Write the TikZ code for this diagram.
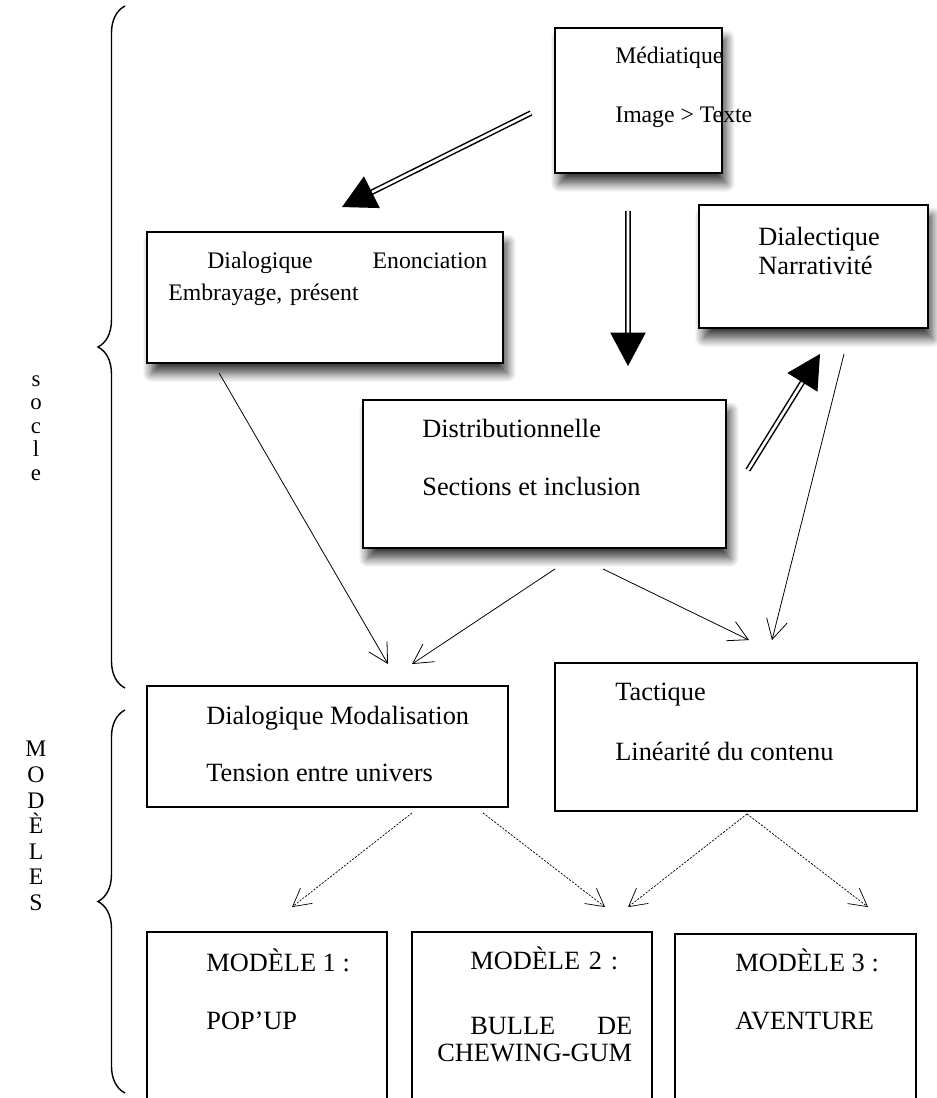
\documentclass[tikz,border=0pt]{standalone}
\usepackage{fontspec}
\setmainfont{Liberation Serif}
\usetikzlibrary{positioning,calc,arrows.meta,shadows.blur,decorations.pathreplacing}

\begin{document}
\begin{tikzpicture}[x=0.02cm, y=-0.02cm,
    box/.style={rectangle, draw, line width=1.1pt, fill=white, inner sep=0pt},
    shadowbox/.style={box, blur shadow={shadow xshift=2.5pt, shadow yshift=-6pt, shadow blur radius=5pt, shadow blur steps=12, shadow opacity=75}},
    txt/.style={anchor=west, inner sep=0pt, align=left},
    dblarrow/.style={double, double distance=1.5pt, line width=0.85pt, -{Triangle[length=19pt, width=20pt]}},
    thinarrow/.style={line width=0.45pt, -{Straight Barb[length=11pt, width=12pt]}},
    dotarrow/.style={line width=0.4pt, dash pattern=on 1.2pt off 0.8pt, -{Straight Barb[length=10pt, width=11pt]}},
    curly/.style={decorate, decoration={brace, amplitude=15.4pt}, line width=0.8pt}]
  \useasboundingbox (0,0) rectangle (936,1098);

  % socle
  \node (media) [shadowbox, minimum width=3.34cm, minimum height=2.90cm] at (638.5,100.5) {};
  \node (dialog) [shadowbox, minimum width=7.12cm, minimum height=2.62cm] at (325,297.5) {};
  \node (dialect) [shadowbox, minimum width=4.58cm, minimum height=2.46cm] at (813.5,266.5) {};
  \node (distrib) [shadowbox, minimum width=7.26cm, minimum height=2.96cm] at (544.5,474) {};

  \node (media-t) [txt, font=\fontsize{13.5}{33.4}\selectfont] at (615,87.5) {Médiatique\\Image > Texte};
  \node (dialog-t) [txt, text width=6.38cm, font=\fontsize{13.5}{18.1}\selectfont] at (168,279) {\hspace*{0.78cm}Dialogique\hfill Enonciation\\Embrayage, présent};
  \node (dialect-t) [txt, font=\fontsize{15}{16}\selectfont] at (758,251) {Dialectique\\Narrativité};
  \node (distrib-t) [txt, font=\fontsize{15}{33.4}\selectfont] at (422,457.5) {Distributionnelle\\Sections et inclusion};

  % modeles
  \node (modal) [box, minimum width=7.22cm, minimum height=2.42cm] at (327.5,746.5) {};
  \node (tact) [box, minimum width=7.24cm, minimum height=2.96cm] at (736,737) {};
  \node (m1) [box, minimum width=4.80cm, minimum height=3.56cm] at (267,1021) {};
  \node (m2) [box, minimum width=4.80cm, minimum height=3.56cm] at (532,1021) {};
  \node (m3) [box, minimum width=4.82cm, minimum height=3.52cm] at (795.5,1022) {};

  \node (modal-t) [txt, font=\fontsize{15}{32.9}\selectfont] at (206,744) {Dialogique Modalisation\\Tension entre univers};
  \node (tact-t) [txt, font=\fontsize{15}{34}\selectfont] at (615,722) {Tactique\\Linéarité du contenu};
  \node (m1-t) [txt, font=\fontsize{15}{32.9}\selectfont] at (206,989) {MODÈLE 1 :\\POP’UP};
  \node (m2-t) [txt, text width=3.9cm, font=\fontsize{15}{15.4}\selectfont] at (437,1004) {\hspace*{0.66cm}MODÈLE 2 :\\[21.6pt]\hspace*{0.66cm}BULLE\hfill DE\\CHEWING-GUM};
  \node (m3-t) [txt, font=\fontsize{15}{32.9}\selectfont] at (735,989) {MODÈLE 3 :\\AVENTURE};

  % accolades
  \draw[curly] (125,688) -- (125,6);
  \draw[curly] (125,1093) -- (125,710);
  \node (socle) [inner sep=0pt, align=center, font=\fontsize{13}{13.3}\selectfont] at (36,428) {s\\o\\c\\l\\e};
  \node (modeles) [inner sep=0pt, align=center, font=\fontsize{13.5}{14.6}\selectfont] at (36,826) {M\\O\\D\\È\\L\\E\\S};

  % fleches
  \draw[dblarrow] ($(media.west)+(-23,12.5)$) -- ($(dialog.north)+(17,-24)$);
  \draw[dblarrow] ($(media.south)+(-10.5,37)$) -- ($(distrib.north)+(83.5,-33)$);
  \draw[dblarrow] ($(distrib.east)+(21,-4)$) -- ($(dialect.south)+(6.5,25)$);

  \draw[thinarrow] ($(dialog.south west)+(73,9)$) -- ($(modal.north)+(60.5,-21)$);
  \draw[thinarrow] ($(distrib.south)+(10.5,20)$) -- ($(modal.north)+(84.5,-21)$);
  \draw[thinarrow] ($(distrib.south)+(58.5,20)$) -- ($(tact.north)+(13,-22)$);
  \draw[thinarrow] ($(dialect.south)+(30.5,25)$) -- ($(tact.north)+(36,-22)$);

  \draw[dotarrow] ($(modal.south)+(84.5,5)$) -- ($(m1.north)+(25,-24)$);
  \draw[dotarrow] ($(modal.south)+(155.5,5)$) -- ($(m2.north)+(73,-24)$);
  \draw[dotarrow] ($(tact.south)+(11,2)$) -- ($(m2.north)+(96,-24)$);
  \draw[dotarrow] ($(tact.south)+(11,2)$) -- ($(m3.north)+(72.5,-26)$);
\end{tikzpicture}
\end{document}
